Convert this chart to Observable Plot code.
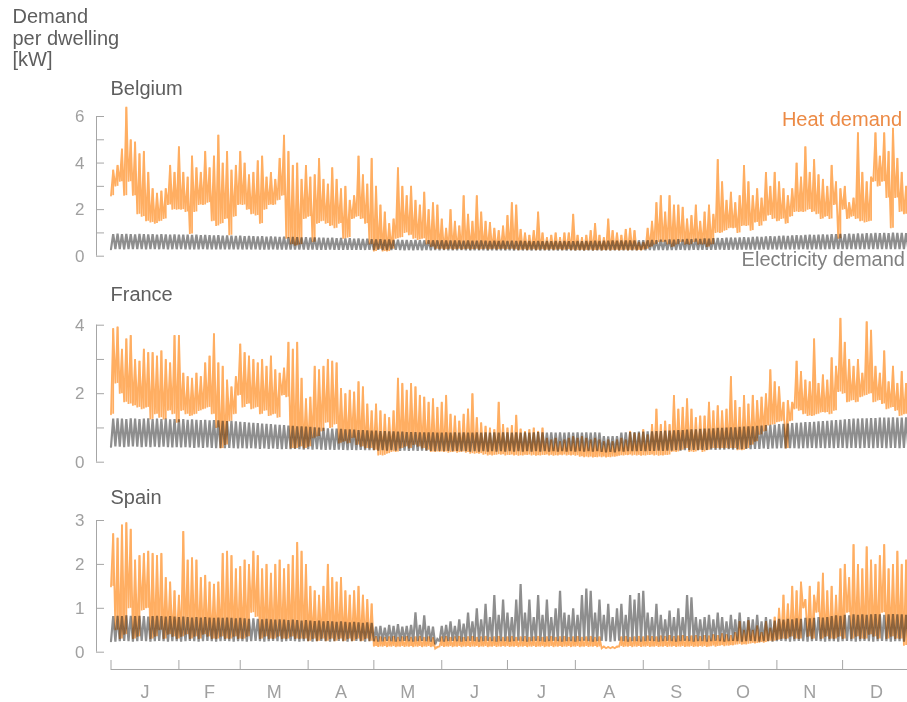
<!DOCTYPE html>
<html>
<head>
<meta charset="utf-8">
<script src="https://cdn.jsdelivr.net/npm/d3@7"></script>
<script src="https://cdn.jsdelivr.net/npm/@observablehq/plot@0.6"></script>
<style>
html,body{margin:0;padding:0;background:#fff;overflow:hidden;}
#chart{position:relative;width:907px;height:702px;overflow:hidden;font-family:"Liberation Sans",Arial,sans-serif;}
.lbl{position:absolute;font-size:20px;line-height:21.5px;white-space:nowrap;color:#5e5e5e;}
#chart svg{position:absolute;left:0;}
</style>
</head>
<body>
<div id="chart"></div>
<script>
// ---------- data: samples every 2 days (day 0,2,...,364); lo = daily trough, hi = daily peak [kW] ----------
const beHeatHi = [
3.7,3.9,4.6,6.4,5.0,4.9,4.4,4.5,3.6,2.9,2.7,2.8,2.9,3.9,3.6,
4.7,3.6,3.4,4.3,3.8,3.6,4.5,3.8,4.3,5.2,4.0,4.5,3.7,3.9,4.5,
4.0,3.5,3.6,4.1,4.3,3.4,3.6,3.3,4.2,5.2,4.5,3.9,4.0,3.3,3.9,
3.4,3.5,4.2,3.3,3.1,3.8,3.3,2.9,3.0,2.4,2.6,4.3,3.5,3.1,4.2,
3.0,2.2,1.9,1.4,1.6,3.8,3.0,2.6,3.0,2.4,2.2,2.75,2.0,2.3,2.2,
1.6,1.2,2.0,1.5,1.3,2.6,1.8,1.5,2.6,1.9,1.5,1.45,1.2,1.1,1.3,
1.75,2.3,2.2,1.15,1.0,0.9,1.1,1.9,1.0,0.8,0.9,1.0,0.8,1.0,1.0,
1.8,0.9,0.8,0.9,1.1,1.4,0.9,0.8,1.6,1.1,1.0,0.9,1.15,1.2,1.1,
0.6,0.6,1.2,1.5,2.3,2.6,1.9,2.6,2.2,2.2,2.1,1.6,1.75,2.2,1.5,
1.9,2.2,1.8,4.15,3.2,2.4,2.75,2.3,2.6,3.9,3.2,2.6,2.9,2.5,3.6,
3.0,3.6,3.2,2.9,2.6,2.9,4.0,3.4,4.7,3.6,4.15,3.5,3.3,3.0,3.9,
3.2,2.9,3.0,2.3,2.5,5.3,3.6,3.2,3.4,5.3,4.3,5.3,4.5,5.5,4.2,
3.6,3.0,2.6];
const beHeatLo = [
2.6,3.0,3.2,2.6,3.2,2.6,1.8,1.7,1.5,1.45,1.4,1.5,1.6,2.2,2.0,
2.0,2.0,1.9,0.95,1.9,2.2,2.2,2.3,1.5,1.3,1.4,1.6,0.9,1.7,2.2,
2.2,2.0,1.8,1.75,1.4,2.0,2.2,2.2,2.4,2.6,0.75,0.5,0.45,0.5,1.6,
1.7,0.6,1.4,1.5,1.4,1.3,1.2,1.4,0.75,0.8,1.6,1.7,1.6,1.4,0.5,
0.2,0.3,0.2,0.2,0.3,0.75,0.8,1.0,0.9,0.75,0.7,0.75,0.5,0.4,0.3,
0.3,0.28,0.3,0.28,0.3,0.28,0.3,0.28,0.3,0.28,0.3,0.28,0.3,0.28,0.3,
0.28,0.3,0.28,0.26,0.28,0.26,0.28,0.26,0.28,0.26,0.28,0.26,0.28,0.26,0.28,
0.26,0.25,0.26,0.25,0.26,0.25,0.26,0.25,0.26,0.25,0.26,0.25,0.26,0.25,0.26,
0.25,0.26,0.3,0.4,0.5,0.6,0.6,0.5,0.4,0.5,0.6,0.5,0.5,0.6,0.5,
0.5,0.4,0.5,1.0,1.0,1.1,1.2,1.2,1.0,1.3,1.3,1.1,1.45,1.3,1.5,
1.75,1.6,1.5,1.6,1.4,1.7,1.9,1.9,1.9,2.0,1.9,1.8,1.6,1.7,1.6,
2.2,0.75,2.0,1.6,1.7,1.6,1.5,1.45,1.5,3.2,3.0,3.2,2.5,1.2,2.5,
1.9,1.8,1.8];
const beElecHi = [
0.95,0.97,0.95,0.96,0.95,0.94,0.96,0.95,0.94,0.95,0.93,0.95,0.94,0.93,0.94,
0.92,0.93,0.92,0.91,0.92,0.90,0.91,0.90,0.89,0.90,0.88,0.89,0.88,0.87,0.88,
0.86,0.87,0.86,0.85,0.86,0.84,0.85,0.84,0.83,0.84,0.82,0.83,0.82,0.81,0.82,
0.80,0.81,0.79,0.80,0.78,0.79,0.77,0.78,0.76,0.77,0.75,0.76,0.74,0.75,0.73,
0.72,0.73,0.71,0.72,0.70,0.71,0.70,0.70,0.69,0.70,0.69,0.68,0.69,0.68,0.68,
0.68,0.67,0.68,0.67,0.67,0.66,0.67,0.66,0.66,0.67,0.66,0.65,0.66,0.65,0.66,
0.65,0.66,0.65,0.66,0.65,0.65,0.64,0.65,0.64,0.65,0.64,0.65,0.64,0.65,0.64,
0.64,0.65,0.64,0.65,0.65,0.66,0.65,0.66,0.66,0.67,0.66,0.67,0.67,0.68,0.67,
0.68,0.69,0.68,0.70,0.69,0.71,0.70,0.72,0.71,0.73,0.72,0.74,0.73,0.75,0.74,
0.76,0.75,0.77,0.78,0.77,0.79,0.80,0.79,0.81,0.82,0.81,0.83,0.84,0.83,0.85,
0.86,0.85,0.87,0.88,0.87,0.89,0.90,0.89,0.91,0.92,0.91,0.93,0.94,0.93,0.95,
0.95,0.96,0.95,0.97,0.96,0.98,0.97,0.99,0.98,1.00,0.99,1.00,0.99,1.01,1.00,
1.00,0.99,1.00];
const beElecLo = [
0.30,0.31,0.30,0.29,0.30,0.31,0.30,0.30,0.29,0.30,0.31,0.30,0.30,0.29,0.30,
0.30,0.31,0.30,0.29,0.30,0.30,0.31,0.30,0.29,0.30,0.30,0.29,0.30,0.29,0.30,
0.29,0.30,0.29,0.30,0.29,0.28,0.29,0.30,0.29,0.28,0.29,0.28,0.29,0.28,0.29,
0.28,0.29,0.28,0.27,0.28,0.29,0.28,0.27,0.28,0.27,0.28,0.27,0.28,0.27,0.28,
0.27,0.28,0.27,0.26,0.27,0.28,0.27,0.26,0.27,0.26,0.27,0.26,0.27,0.26,0.27,
0.26,0.27,0.26,0.25,0.26,0.27,0.26,0.25,0.26,0.25,0.26,0.25,0.26,0.25,0.26,
0.25,0.26,0.25,0.26,0.25,0.26,0.25,0.26,0.25,0.26,0.25,0.26,0.25,0.26,0.25,
0.26,0.25,0.26,0.25,0.26,0.25,0.26,0.25,0.26,0.25,0.26,0.25,0.26,0.25,0.26,
0.26,0.27,0.26,0.27,0.26,0.27,0.27,0.26,0.27,0.27,0.28,0.27,0.27,0.28,0.27,
0.28,0.27,0.28,0.28,0.29,0.28,0.28,0.29,0.28,0.29,0.29,0.28,0.29,0.29,0.30,
0.29,0.30,0.29,0.30,0.30,0.29,0.30,0.30,0.31,0.30,0.30,0.31,0.30,0.30,0.31,
0.30,0.31,0.30,0.30,0.31,0.30,0.31,0.30,0.30,0.31,0.30,0.31,0.30,0.30,0.31,
0.30,0.31,0.30];

const frHeatHi = [
3.9,3.95,3.3,3.6,3.7,3.0,2.95,3.3,3.2,3.2,3.1,3.25,3.0,2.9,3.7,
3.7,2.6,2.5,2.45,2.6,2.5,2.9,3.1,3.75,2.9,2.8,2.4,2.2,2.5,3.45,
3.2,3.1,3.0,2.9,3.0,2.8,3.1,2.7,2.6,2.75,3.5,3.3,3.5,2.45,1.85,
1.9,2.8,2.7,2.8,3.0,2.95,2.9,2.15,2.0,2.1,2.05,2.35,2.2,1.7,1.5,
1.7,1.5,1.4,1.3,1.5,2.45,2.3,2.1,2.3,2.2,1.95,1.9,1.75,1.85,1.6,
1.75,1.95,1.4,1.35,1.2,1.4,1.55,2.0,1.3,1.15,1.05,1.0,0.95,1.75,1.1,
1.0,1.07,1.37,0.97,0.9,0.95,1.0,0.9,1.0,0.7,0.65,0.7,0.6,0.65,0.7,
0.75,0.7,0.75,0.7,0.65,0.7,0.65,0.6,0.65,0.6,0.65,0.7,0.65,0.9,0.85,
0.85,0.95,0.8,1.1,1.55,1.1,1.2,1.1,1.95,1.55,1.6,1.85,1.55,1.3,1.35,
1.35,1.75,1.5,1.65,1.5,1.55,2.5,1.8,1.6,1.95,1.7,1.95,1.8,1.9,2.0,
2.7,2.35,2.2,1.75,1.8,1.75,2.95,2.65,2.4,2.35,3.6,2.3,2.55,2.4,3.05,
2.8,4.2,3.5,3.0,2.8,3.0,2.6,4.1,3.85,2.8,2.6,3.25,2.35,2.8,2.3,
2.65,2.3,2.2];
const frHeatLo = [
1.4,2.3,2.0,1.75,1.7,1.65,1.6,1.55,1.6,1.25,1.4,1.3,1.25,1.5,1.4,
1.15,1.5,1.4,1.35,1.4,1.5,1.55,1.6,1.4,1.0,0.4,0.5,1.2,1.4,1.95,
1.6,1.7,1.55,1.6,1.4,1.5,1.35,1.4,1.3,1.95,1.9,0.4,0.4,0.45,0.4,
0.45,0.7,0.75,0.9,1.15,1.0,1.1,0.55,0.6,0.55,0.7,0.5,0.45,0.4,0.4,
0.35,0.2,0.2,0.25,0.3,0.3,0.4,0.45,0.4,0.5,0.45,0.4,0.35,0.3,0.3,
0.3,0.3,0.28,0.3,0.28,0.3,0.28,0.25,0.25,0.25,0.22,0.2,0.2,0.22,0.22,
0.2,0.21,0.2,0.19,0.2,0.21,0.2,0.19,0.2,0.21,0.2,0.19,0.2,0.21,0.2,
0.2,0.19,0.16,0.15,0.15,0.14,0.15,0.15,0.14,0.15,0.16,0.19,0.2,0.21,0.2,
0.2,0.19,0.2,0.21,0.2,0.19,0.2,0.21,0.3,0.3,0.35,0.4,0.3,0.3,0.35,
0.3,0.35,0.4,0.4,0.4,0.4,0.4,0.4,0.35,0.35,0.4,0.5,0.6,0.8,0.9,
1.07,1.1,1.17,1.2,0.4,1.2,1.55,1.5,1.4,1.35,1.35,1.4,1.45,1.45,1.4,
1.5,2.05,2.0,1.75,1.8,1.75,1.9,1.95,2.0,1.75,1.8,1.7,1.55,1.6,1.5,
1.35,1.4,1.4];
const frElecHi = [
1.27,1.28,1.27,1.26,1.28,1.27,1.26,1.27,1.28,1.26,1.27,1.26,1.27,1.25,1.26,
1.25,1.26,1.24,1.25,1.24,1.23,1.24,1.22,1.23,1.22,1.21,1.2,1.21,1.19,1.18,
1.17,1.16,1.15,1.14,1.13,1.12,1.11,1.1,1.09,1.08,1.07,1.06,1.05,1.05,1.04,
1.03,1.02,1.01,1.0,0.99,0.98,0.98,0.97,0.96,0.96,0.95,0.94,0.94,0.93,0.92,
0.92,0.91,0.91,0.9,0.9,0.89,0.89,0.88,0.88,0.88,0.87,0.87,0.87,0.87,0.86,
0.86,0.87,0.86,0.87,0.86,0.87,0.86,0.86,0.87,0.86,0.87,0.86,0.87,0.86,0.87,
0.87,0.86,0.87,0.86,0.87,0.86,0.87,0.88,0.87,0.86,0.87,0.86,0.87,0.86,0.87,
0.86,0.87,0.86,0.87,0.86,0.87,0.86,0.76,0.75,0.76,0.76,0.86,0.87,0.88,0.88,
0.89,0.89,0.9,0.9,0.91,0.91,0.92,0.92,0.93,0.94,0.94,0.95,0.96,0.96,0.97,
0.98,0.98,0.99,1.0,1.0,1.01,1.02,1.02,1.03,1.04,1.05,1.05,1.06,1.07,1.08,
1.09,1.1,1.11,1.12,1.13,1.14,1.15,1.16,1.17,1.17,1.18,1.19,1.2,1.21,1.22,
1.23,1.24,1.25,1.26,1.27,1.27,1.28,1.28,1.29,1.29,1.3,1.3,1.3,1.31,1.3,
1.3,1.31,1.3];
const frElecLo = [
0.45,0.46,0.45,0.44,0.45,0.46,0.45,0.44,0.45,0.44,0.45,0.44,0.45,0.44,0.43,
0.44,0.43,0.44,0.43,0.42,0.43,0.42,0.43,0.42,0.41,0.42,0.41,0.42,0.41,0.40,
0.41,0.40,0.41,0.40,0.39,0.40,0.39,0.40,0.39,0.38,0.39,0.38,0.39,0.38,0.37,
0.38,0.37,0.38,0.37,0.36,0.37,0.36,0.37,0.36,0.35,0.36,0.35,0.36,0.35,0.35,
0.35,0.34,0.35,0.34,0.35,0.34,0.33,0.34,0.33,0.34,0.33,0.34,0.33,0.33,0.32,
0.33,0.32,0.33,0.32,0.33,0.32,0.32,0.31,0.32,0.31,0.32,0.31,0.32,0.31,0.32,
0.31,0.32,0.31,0.32,0.31,0.32,0.31,0.32,0.31,0.32,0.31,0.32,0.31,0.32,0.31,
0.32,0.31,0.32,0.31,0.32,0.31,0.32,0.30,0.29,0.30,0.29,0.32,0.31,0.32,0.32,
0.32,0.33,0.32,0.33,0.33,0.34,0.33,0.34,0.34,0.35,0.34,0.35,0.35,0.36,0.35,
0.36,0.36,0.37,0.36,0.37,0.37,0.38,0.37,0.38,0.38,0.39,0.38,0.39,0.39,0.40,
0.39,0.40,0.40,0.41,0.40,0.41,0.41,0.40,0.41,0.41,0.42,0.41,0.42,0.41,0.42,
0.41,0.42,0.42,0.41,0.42,0.42,0.41,0.42,0.42,0.41,0.42,0.42,0.41,0.42,0.42,
0.41,0.42,0.42];

const esHeatHi = [
2.7,2.6,2.9,2.95,2.8,2.1,2.2,2.25,2.3,2.25,2.2,2.25,1.7,1.6,1.4,
1.3,2.75,2.1,2.15,2.1,1.7,1.75,1.6,1.55,1.6,2.25,2.3,2.2,1.9,1.95,
2.1,2.0,2.3,2.2,1.9,2.0,1.8,2.0,2.1,1.9,2.0,2.2,2.5,2.3,2.0,
1.5,1.4,1.3,1.5,2.0,1.7,1.6,1.7,1.4,1.3,1.4,1.5,1.3,1.2,1.1,
0.36,0.35,0.34,0.35,0.36,0.34,0.35,0.36,0.34,0.35,0.36,0.34,0.35,0.33,0.12,
0.35,0.36,0.34,0.35,0.36,0.34,0.35,0.36,0.34,0.35,0.36,0.34,0.35,0.36,0.34,
0.35,0.36,0.34,0.35,0.36,0.34,0.35,0.36,0.34,0.35,0.36,0.34,0.35,0.36,0.34,
0.35,0.36,0.34,0.35,0.36,0.34,0.35,0.13,0.12,0.12,0.13,0.35,0.36,0.34,0.35,
0.36,0.35,0.37,0.36,0.35,0.37,0.36,0.38,0.36,0.37,0.38,0.36,0.37,0.38,0.36,
0.38,0.37,0.4,0.38,0.42,0.4,0.38,0.45,0.7,0.5,0.72,0.5,0.6,0.45,0.7,
0.55,0.8,1.0,1.3,1.1,1.5,1.4,1.6,1.2,1.5,1.3,1.6,1.8,1.4,1.5,
1.3,1.9,2.0,1.7,2.45,2.0,1.9,2.4,2.1,2.0,2.2,2.45,1.9,2.0,2.3,
2.0,2.1,1.9];
const esHeatLo = [
1.5,0.5,0.3,0.4,1.0,0.3,0.35,0.95,1.0,0.3,0.35,0.5,0.3,0.4,0.35,
0.3,0.35,0.4,0.3,0.35,0.3,0.4,0.35,0.3,0.3,0.35,0.3,0.3,0.35,0.3,
0.3,0.35,0.9,0.8,0.3,0.35,0.3,0.3,0.35,0.3,0.3,0.35,0.3,0.3,0.3,
0.25,0.3,0.25,0.3,0.25,0.3,0.25,0.3,0.25,0.3,0.25,0.3,0.25,0.3,0.25,
0.13,0.12,0.13,0.12,0.13,0.12,0.13,0.12,0.13,0.12,0.13,0.12,0.13,0.12,0.08,
0.13,0.12,0.13,0.12,0.13,0.12,0.13,0.12,0.13,0.12,0.13,0.12,0.13,0.12,0.13,
0.13,0.12,0.13,0.12,0.13,0.12,0.13,0.12,0.13,0.12,0.13,0.12,0.13,0.12,0.13,
0.12,0.13,0.12,0.13,0.12,0.13,0.12,0.09,0.09,0.09,0.09,0.13,0.12,0.13,0.12,
0.13,0.12,0.13,0.12,0.13,0.12,0.13,0.12,0.13,0.12,0.13,0.12,0.13,0.12,0.13,
0.13,0.12,0.14,0.13,0.15,0.14,0.15,0.16,0.18,0.17,0.18,0.2,0.2,0.22,0.22,
0.25,0.25,0.28,0.3,0.3,0.35,0.3,0.3,1.0,0.35,0.3,0.9,0.3,0.35,0.3,
0.3,0.35,0.3,0.9,0.3,0.35,0.3,0.3,0.4,0.35,0.3,0.9,0.3,0.35,0.3,
0.3,0.15,0.35];
const esElecHi = [
0.82,0.83,0.82,0.84,0.83,0.82,0.83,0.82,0.81,0.82,0.83,0.82,0.81,0.82,0.81,
0.8,0.81,0.8,0.79,0.8,0.79,0.8,0.79,0.78,0.79,0.78,0.79,0.78,0.77,0.78,
0.77,0.76,0.77,0.76,0.75,0.76,0.75,0.74,0.75,0.74,0.73,0.74,0.73,0.72,0.73,
0.72,0.71,0.72,0.7,0.71,0.7,0.69,0.7,0.69,0.68,0.69,0.68,0.67,0.68,0.67,
0.58,0.6,0.56,0.62,0.6,0.64,0.58,0.6,0.62,0.91,0.62,0.84,0.6,0.58,0.3,
0.6,0.62,0.7,0.6,0.75,0.65,0.9,0.7,1.0,0.75,1.1,0.8,1.3,0.85,1.2,
0.9,0.8,1.2,1.55,0.9,1.2,0.8,1.3,0.85,1.2,0.8,1.0,1.4,0.9,0.85,
1.0,0.85,1.3,1.45,1.4,0.9,1.2,0.85,1.1,0.8,1.0,1.1,0.85,1.3,1.2,
1.35,1.4,0.9,0.8,1.1,0.85,0.75,0.95,0.8,1.0,0.8,1.3,1.25,0.8,0.75,
0.8,0.85,0.75,0.9,0.8,0.7,0.85,0.75,0.9,0.7,0.8,0.75,0.85,0.7,0.8,
0.75,0.72,0.76,0.74,0.76,0.75,0.77,0.76,0.78,0.77,0.78,0.8,0.79,0.8,0.82,
0.84,0.83,0.85,0.84,0.86,0.85,0.86,0.85,0.86,0.87,0.86,0.85,0.86,0.87,0.86,
0.86,0.85,0.86];
const esElecLo = [
0.25,0.24,0.25,0.26,0.25,0.24,0.25,0.26,0.25,0.24,0.25,0.26,0.25,0.24,0.25,
0.25,0.24,0.25,0.26,0.25,0.24,0.25,0.26,0.25,0.24,0.25,0.26,0.25,0.24,0.25,
0.25,0.24,0.25,0.26,0.25,0.24,0.25,0.26,0.25,0.24,0.25,0.26,0.25,0.24,0.25,
0.25,0.24,0.25,0.26,0.25,0.24,0.25,0.26,0.25,0.24,0.25,0.26,0.25,0.24,0.25,
0.25,0.24,0.25,0.26,0.25,0.24,0.25,0.26,0.25,0.24,0.25,0.26,0.25,0.24,0.18,
0.25,0.24,0.25,0.26,0.25,0.24,0.25,0.26,0.25,0.24,0.25,0.26,0.25,0.24,0.25,
0.25,0.24,0.25,0.26,0.25,0.24,0.25,0.26,0.25,0.24,0.25,0.26,0.25,0.24,0.25,
0.25,0.24,0.25,0.26,0.25,0.24,0.25,0.26,0.25,0.24,0.25,0.26,0.25,0.24,0.25,
0.25,0.24,0.25,0.26,0.25,0.24,0.25,0.26,0.25,0.24,0.25,0.26,0.25,0.24,0.25,
0.25,0.24,0.25,0.26,0.25,0.24,0.25,0.26,0.25,0.24,0.25,0.26,0.25,0.24,0.25,
0.25,0.24,0.25,0.26,0.25,0.24,0.25,0.26,0.25,0.24,0.25,0.26,0.25,0.24,0.25,
0.25,0.24,0.25,0.26,0.25,0.24,0.25,0.26,0.25,0.24,0.25,0.26,0.25,0.24,0.25,
0.25,0.24,0.25];

// ---------- axis content ----------
const monthLetters = ["J","F","M","A","M","J","J","A","S","O","N","D"];
const monthStartDays = [0,31,59,90,120,151,181,212,243,273,304,334];
const monthMidDays = [15.5,45,74.5,105,135.5,166,196.5,227.5,258,288.5,319,349.5];
const beTicks = [0,1,2,3,4,5,6], beLabels = [0,2,4,6];
const frTicks = [0,1,2,3,4], frLabels = [0,2,4];
const esTicks = [0,1,2,3], esLabels = [0,1,2,3];

// ---------- rendering ----------
const chart = document.getElementById("chart");
const AXIS = "#a6a6a6", LABEL = "#a0a0a0";
const HEAT = "#ffae62", ELEC = "#8e8e8e";
const letterAt = new Map(monthMidDays.map((d, i) => [d, monthLetters[i]]));

// each 2-day sample: trough at day 2i, peak at day 2i+1
function rows(lo, hi) { return lo.map((v, i) => ({day: 2 * i + 1, lo: v, hi: hi[i]})); }
function zig(lo, hi) {
  const pts = [];
  lo.forEach((v, i) => { pts.push({day: 2 * i, kw: v}); pts.push({day: 2 * i + 1, kw: hi[i]}); });
  return pts;
}

function panel(p) {
  const yPx0 = p.y0 - p.top, yPx1 = p.yTop - p.top;
  const frameBottom = p.xAxisAt ? p.xAxisAt - p.top : yPx0;
  const marks = [
    // heat (opaque): daily swings as zigzag + peak strokes
    Plot.ruleX(rows(p.heatLo, p.heatHi), {x: "day", y1: "lo", y2: "hi", stroke: HEAT, strokeWidth: 1.8}),
    Plot.line(zig(p.heatLo, p.heatHi), {x: "day", y: "kw", stroke: HEAT, strokeWidth: 1.8, strokeLinejoin: "miter", strokeMiterlimit: 2}),
    // electricity: a single mark blended by multiply -> brown where it overlaps the heat
    Plot.line(zig(p.elecLo, p.elecHi), {x: "day", y: "kw", stroke: ELEC, strokeWidth: 2.2, strokeLinejoin: "miter", strokeMiterlimit: 2, mixBlendMode: "multiply"}),
    Plot.ruleX([0], {y1: 0, y2: p.yMax, dx: -14.5, stroke: AXIS}),
    Plot.axisY(p.ticks, {anchor: "left", tickSize: -8, tickFormat: () => "", stroke: AXIS, label: null}),
    Plot.axisY(p.labels, {anchor: "left", tickSize: 0, tickPadding: 12, fill: LABEL, fontSize: 17, label: null})
  ];
  if (p.xAxisAt) {
    marks.push(
      Plot.ruleY([0], {x1: 0, x2: 365, dy: frameBottom - yPx0, stroke: AXIS}),
      Plot.axisX(monthStartDays, {anchor: "bottom", tickSize: -9, tickFormat: () => "", stroke: AXIS, label: null}),
      Plot.axisX(monthMidDays, {anchor: "bottom", tickSize: 0, tickPadding: 15.5, tickFormat: d => letterAt.get(d), fill: LABEL, fontSize: 18, label: null})
    );
  }
  const svg = Plot.plot({
    width: 907, height: p.height,
    marginLeft: 96, marginRight: 0, marginTop: yPx1, marginBottom: p.height - frameBottom,
    x: {domain: [0, 365], range: [110.5, 910], axis: null},
    y: {domain: [0, p.yMax], range: [yPx0, yPx1], axis: null},
    style: {background: "transparent", fontFamily: '"Liberation Sans", Arial, sans-serif', overflow: "visible"},
    marks
  });
  svg.style.top = p.top + "px";
  chart.appendChild(svg);
}

panel({top: 100, height: 170, y0: 255.7, yTop: 116, yMax: 6, ticks: beTicks, labels: beLabels,
       heatLo: beHeatLo, heatHi: beHeatHi, elecLo: beElecLo, elecHi: beElecHi});
panel({top: 305, height: 165, y0: 461.7, yTop: 324.7, yMax: 4, ticks: frTicks, labels: frLabels,
       heatLo: frHeatLo, heatHi: frHeatHi, elecLo: frElecLo, elecHi: frElecHi});
panel({top: 505, height: 197, y0: 651.7, yTop: 520, yMax: 3, ticks: esTicks, labels: esLabels, xAxisAt: 669,
       heatLo: esHeatLo, heatHi: esHeatHi, elecLo: esElecLo, elecHi: esElecHi});

function label(text, css) {
  const d = document.createElement("div");
  d.className = "lbl";
  d.innerHTML = text;
  Object.assign(d.style, css);
  chart.appendChild(d);
}
label("Demand<br>per dwelling<br>[kW]", {left: "12.5px", top: "6.3px"});
label("Belgium", {left: "110.5px", top: "78px"});
label("France", {left: "110.5px", top: "284.3px"});
label("Spain", {left: "110.5px", top: "487px"});
label("Heat demand", {right: "5px", top: "109.3px", color: "#ec8a45"});
label("Electricity demand", {right: "2px", top: "249.3px", color: "#808080"});
</script>
</body>
</html>
